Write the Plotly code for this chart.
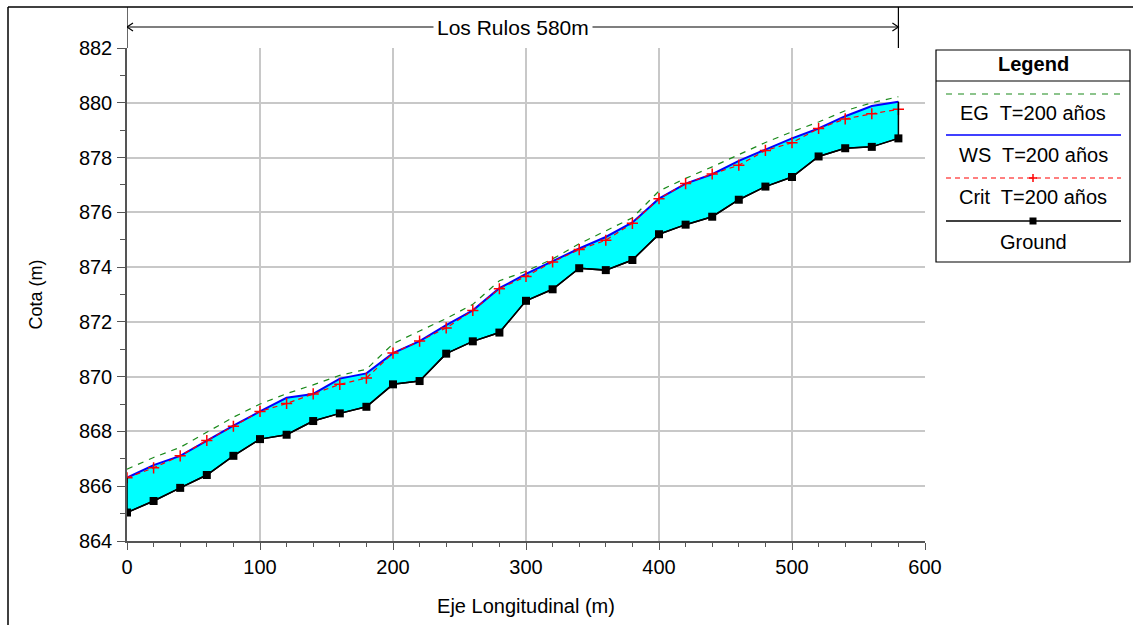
import plotly.graph_objects as go

stations = [0, 20, 40, 60, 80, 100, 120, 140, 160, 180, 200, 220, 240, 260, 280,
            300, 320, 340, 360, 380, 400, 420, 440, 460, 480, 500, 520, 540, 560, 580]
ground = [865.04, 865.46, 865.94, 866.41, 867.11, 867.72, 867.88, 868.38, 868.66, 868.90,
          869.72, 869.84, 870.84, 871.29, 871.61, 872.77, 873.19, 873.96, 873.89, 874.26,
          875.20, 875.55, 875.84, 876.46, 876.94, 877.29, 878.04, 878.34, 878.39, 878.70]
ws = [866.31, 866.77, 867.11, 867.67, 868.21, 868.73, 869.23, 869.37, 869.93, 870.12,
      870.86, 871.30, 871.88, 872.42, 873.23, 873.75, 874.22, 874.68, 875.10, 875.63,
      876.50, 877.05, 877.39, 877.88, 878.29, 878.70, 879.06, 879.51, 879.88, 880.04]
crit = [866.31, 866.67, 867.11, 867.67, 868.19, 868.73, 869.02, 869.37, 869.72, 869.95,
        870.86, 871.30, 871.78, 872.42, 873.21, 873.66, 874.19, 874.64, 874.98, 875.60,
        876.50, 877.05, 877.40, 877.72, 878.26, 878.54, 879.06, 879.41, 879.60, 879.76]
eg = [866.62, 867.05, 867.42, 867.98, 868.52, 869.00, 869.38, 869.70, 870.05, 870.27,
      871.20, 871.67, 872.12, 872.64, 873.50, 873.85, 874.30, 874.85, 875.32, 875.80,
      876.78, 877.24, 877.66, 878.11, 878.55, 878.94, 879.30, 879.71, 880.00, 880.22]

reach_name = "Los Rulos"
legend_labels = ["EG  T=200 años", "WS  T=200 años", "Crit  T=200 años", "Ground"]

W, H = 1133, 625
ML, MR, MT, MB = 127, W - 925, 48, H - 541
PW, PH = W - ML - MR, H - MT - MB


def px(xp):
    return (xp - ML) / PW


def py(yp):
    return (H - MB - yp) / PH


FONT = "Liberation Sans, Arial, sans-serif"
GREEN, BLUE, RED, CYAN = "#1a8a1a", "#0000ff", "#ff0000", "#00ffff"

fig = go.Figure()
fig.add_trace(go.Scatter(x=stations, y=ground, mode="lines",
                         line=dict(color="black", width=1.5), hoverinfo="skip"))
fig.add_trace(go.Scatter(x=stations, y=ws, mode="lines", fill="tonexty",
                         fillcolor=CYAN, line=dict(color=BLUE, width=2), name="WS"))
fig.add_trace(go.Scatter(x=stations, y=eg, mode="lines",
                         line=dict(color=GREEN, width=1.2, dash="6px,6px"), name="EG"))
fig.add_trace(go.Scatter(x=stations, y=crit, mode="lines+markers",
                         line=dict(color=RED, width=1.2, dash="5px,4px"),
                         marker=dict(symbol="cross-thin", size=8,
                                     line=dict(color=RED, width=1.5)), name="Crit"))
fig.add_trace(go.Scatter(x=stations, y=ground, mode="lines+markers",
                         line=dict(color="black", width=1.5),
                         marker=dict(symbol="square", size=8, color="black"), name="Ground"))

shapes = []
annotations = []

# closing edges of the filled area
for i in (0, -1):
    shapes.append(dict(type="line", xref="x", yref="y", x0=stations[i], x1=stations[i],
                       y0=ground[i], y1=ws[i], line=dict(color="black", width=1.5)))

# outer frame
shapes.append(dict(type="line", xref="paper", yref="paper", x0=px(8), x1=px(W),
                   y0=py(7), y1=py(7), line=dict(color="black", width=1.5)))
shapes.append(dict(type="line", xref="paper", yref="paper", x0=px(8), x1=px(8),
                   y0=py(7), y1=py(H), line=dict(color="black", width=1.5)))

# reach length dimension
x0r, x1r = stations[0], stations[-1]
ya = py(27)
for xv in (x0r, x1r):
    shapes.append(dict(type="line", xref="x", yref="paper", x0=xv, x1=xv,
                       y0=py(7), y1=1.0, line=dict(color="black", width=1.2)))
shapes.append(dict(type="line", xref="x", yref="paper", x0=x0r, x1=x1r, y0=ya, y1=ya,
                   line=dict(color="black", width=1.2)))
ax_per_px = 600 / PW
ay_per_px = 1 / PH
hx, hy = 6 * ax_per_px, 4 * ay_per_px
shapes.append(dict(type="path", xref="x", yref="paper",
                   path=f"M {x0r + hx},{ya + hy} L {x0r},{ya} L {x0r + hx},{ya - hy}",
                   line=dict(color="black", width=1.2)))
shapes.append(dict(type="path", xref="x", yref="paper",
                   path=f"M {x1r - hx},{ya + hy} L {x1r},{ya} L {x1r - hx},{ya - hy}",
                   line=dict(color="black", width=1.2)))
annotations.append(dict(x=(x0r + x1r) / 2, y=ya, xref="x", yref="paper",
                        xanchor="center", yanchor="middle",
                        text=f"{reach_name} {x1r - x0r:g}m", showarrow=False,
                        bgcolor="white", borderpad=3,
                        font=dict(family=FONT, size=21, color="black")))

# custom legend box
lx0, lx1, ly0, ly1 = 936, 1130, 50, 262
shapes.append(dict(type="rect", xref="paper", yref="paper", x0=px(lx0), x1=px(lx1),
                   y0=py(ly1), y1=py(ly0), line=dict(color="black", width=1.2),
                   fillcolor="white"))
shapes.append(dict(type="line", xref="paper", yref="paper", x0=px(lx0), x1=px(lx1),
                   y0=py(81), y1=py(81), line=dict(color="black", width=1.2)))
cx = (lx0 + lx1) / 2
annotations.append(dict(x=px(cx), y=py(64), xref="paper", yref="paper", text="<b>Legend</b>",
                        xanchor="center", yanchor="middle",
                        showarrow=False, font=dict(family=FONT, size=20, color="black")))
sample_y = [94, 135, 178, 221]
text_y = [113, 155, 197, 242]
styles = [dict(color=GREEN, width=1.2, dash="6px,6px"),
          dict(color=BLUE, width=1.6),
          dict(color=RED, width=1.2, dash="5px,4px"),
          dict(color="black", width=1.5)]
for lab, sy, ty, st in zip(legend_labels, sample_y, text_y, styles):
    shapes.append(dict(type="line", xref="paper", yref="paper", x0=px(946), x1=px(1121),
                       y0=py(sy), y1=py(sy), line=st))
    annotations.append(dict(x=px(cx), y=py(ty), xref="paper", yref="paper", text=lab,
                            xanchor="center", yanchor="middle",
                            showarrow=False, font=dict(family=FONT, size=20, color="black")))
# crit marker (+) and ground marker (square) in legend
shapes.append(dict(type="line", xref="paper", yref="paper", x0=px(cx - 4), x1=px(cx + 4),
                   y0=py(178), y1=py(178), line=dict(color=RED, width=1.5)))
shapes.append(dict(type="line", xref="paper", yref="paper", x0=px(cx), x1=px(cx),
                   y0=py(174), y1=py(182), line=dict(color=RED, width=1.5)))
shapes.append(dict(type="rect", xref="paper", yref="paper", x0=px(cx - 3.5), x1=px(cx + 3.5),
                   y0=py(224.5), y1=py(217.5), line=dict(color="black", width=0),
                   fillcolor="black"))

fig.update_layout(
    width=W, height=H,
    margin=dict(l=ML, r=MR, t=MT, b=MB, pad=0),
    plot_bgcolor="white", paper_bgcolor="white",
    showlegend=False,
    font=dict(family=FONT, color="black"),
    shapes=shapes, annotations=annotations,
    xaxis=dict(range=[0, 600], dtick=100, tick0=0, showgrid=True, gridcolor="#c8c8c8",
               gridwidth=1.5, zeroline=False, showline=True, linecolor="#555555",
               linewidth=1.5, ticks="outside", ticklen=7, tickcolor="#555555",
               ticklabelstandoff=0,
               tickfont=dict(family=FONT, size=20, color="black"),
               minor=dict(dtick=20, ticks="outside", ticklen=4, tickcolor="#555555",
                          showgrid=False),
               title=dict(text="Eje Longitudinal (m)", standoff=22,
                          font=dict(family=FONT, size=20, color="black"))),
    yaxis=dict(range=[864, 882], dtick=2, tick0=864, showgrid=True, gridcolor="#c8c8c8",
               gridwidth=1.5, zeroline=False, showline=True, linecolor="#555555",
               linewidth=1.5, ticks="outside", ticklen=8, tickcolor="#555555",
               ticklabelstandoff=1,
               tickfont=dict(family=FONT, size=20, color="black"),
               minor=dict(dtick=1, ticks="outside", ticklen=5, tickcolor="#555555",
                          showgrid=False),
               title=dict(text="Cota (m)", standoff=32,
                          font=dict(family=FONT, size=18, color="black"))),
)

fig.write_html("out.html")
